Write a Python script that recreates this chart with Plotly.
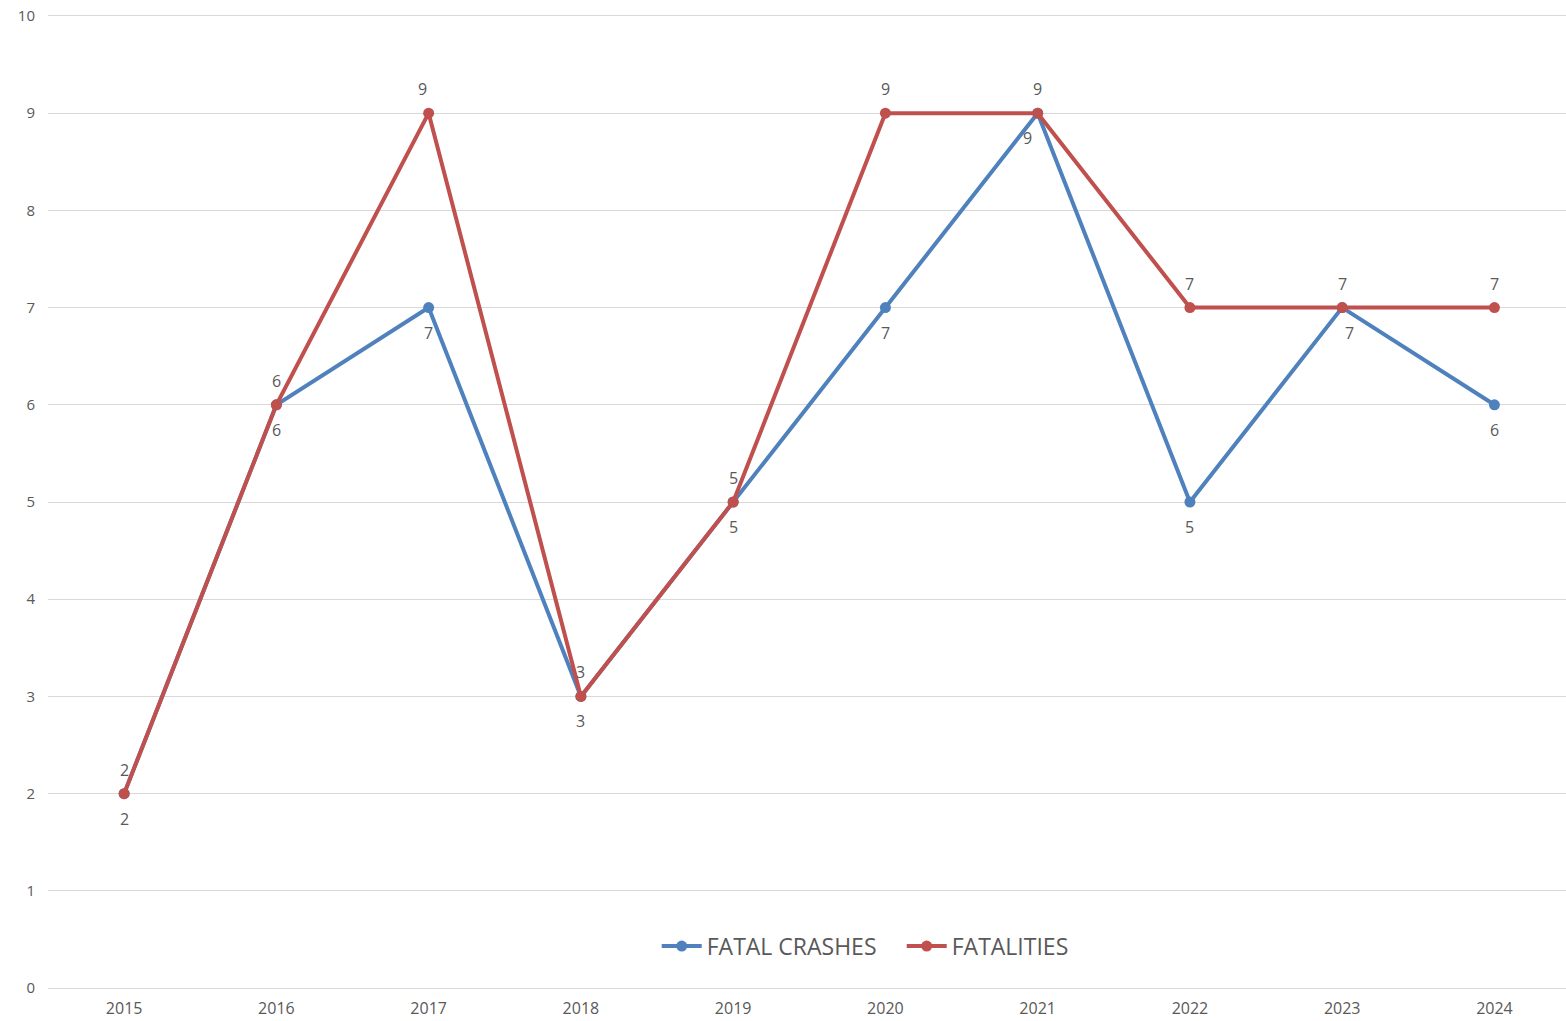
import plotly.graph_objects as go

years = ["2015", "2016", "2017", "2018", "2019", "2020", "2021", "2022", "2023", "2024"]
fatal_crashes = [2, 6, 7, 3, 5, 7, 9, 5, 7, 6]
fatalities = [2, 6, 9, 3, 5, 9, 9, 7, 7, 7]
y_ticks = [0, 1, 2, 3, 4, 5, 6, 7, 8, 9, 10]

BLUE = "#4F81BD"
RED = "#C0504D"
TXT = "#595959"
FONT = "Open Sans"

# small horizontal nudges of data labels (series index, point index) -> px, to avoid overlaps
label_nudge = {(0, 6): -10, (0, 8): 7, (1, 2): -6}

fig = go.Figure()
fig.add_trace(go.Scatter(x=years, y=fatal_crashes, name="FATAL CRASHES", mode="lines+markers",
                         line=dict(color=BLUE, width=4), marker=dict(color=BLUE, size=11),
                         hoverinfo="skip"))
fig.add_trace(go.Scatter(x=years, y=fatalities, name="FATALITIES", mode="lines+markers",
                         line=dict(color=RED, width=4), marker=dict(color=RED, size=11),
                         hoverinfo="skip"))

annotations = []
for s, (vals, dy) in enumerate([(fatal_crashes, -25), (fatalities, 24)]):
    for i, v in enumerate(vals):
        annotations.append(dict(x=i, y=v, xref="x", yref="y", text=str(v), showarrow=False,
                                yshift=dy, xshift=label_nudge.get((s, i), 0),
                                font=dict(family=FONT, size=16, color=TXT)))

fig.update_layout(
    width=1566, height=1021,
    margin=dict(l=48, r=0, t=14, b=31),
    paper_bgcolor="white", plot_bgcolor="white",
    font=dict(family=FONT, color=TXT, size=16),
    annotations=annotations,
    showlegend=True,
    legend=dict(orientation="h", x=0.401, xanchor="left", y=0.045, yanchor="middle",
                font=dict(family=FONT, size=23, color=TXT), bgcolor="rgba(0,0,0,0)",
                itemwidth=40, entrywidth=190, tracegroupgap=0),
    xaxis=dict(type="category", range=[-0.5, 9.47], showgrid=False, zeroline=False,
               showline=False, ticks="", automargin=False, ticklabelstandoff=7,
               tickfont=dict(size=16, color=TXT)),
    yaxis=dict(range=[-0.02, 10.02], tickvals=y_ticks, showgrid=True, gridcolor="#D9D9D9", gridwidth=1,
               zeroline=False, showline=False, ticks="", ticklabelstandoff=12, automargin=False,
               tickfont=dict(size=15, color=TXT)),
)

fig.write_html("out.html", config={"displayModeBar": False},
               post_script="document.body.style.margin='0';document.body.style.overflow='hidden';")
